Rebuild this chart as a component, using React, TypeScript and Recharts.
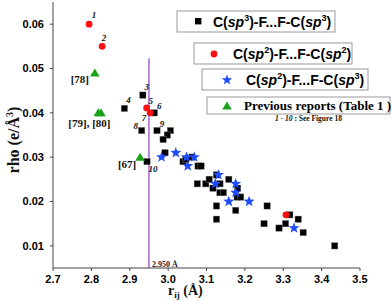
import { ReferenceLine, Scatter, ScatterChart, XAxis, YAxis } from 'recharts'

// C(sp3)-F...F-C(sp3)
const sp3sp3X = [2.934, 2.886, 2.964, 2.931, 2.971, 3.006, 2.998, 2.987, 2.992, 2.945, 3.039, 3.046, 3.062, 3.078, 3.086, 3.076, 3.098, 3.107, 3.117, 3.126, 3.135, 3.135, 3.144, 3.158, 3.181, 3.18, 3.189, 3.126, 3.176, 3.126, 3.258, 3.25, 3.289, 3.306, 3.317, 3.339, 3.352, 3.434]
const sp3sp3Y = [0.044, 0.041, 0.04, 0.036, 0.036, 0.036, 0.035, 0.034, 0.031, 0.029, 0.029, 0.0295, 0.03, 0.028, 0.028, 0.024, 0.024, 0.025, 0.023, 0.026, 0.024, 0.022, 0.022, 0.025, 0.023, 0.021, 0.021, 0.019, 0.018, 0.016, 0.019, 0.015, 0.014, 0.015, 0.017, 0.016, 0.013, 0.01]

// C(sp2)-F...F-C(sp2)
const sp2sp2X = [2.794, 2.828, 2.944, 2.953, 3.307]
const sp2sp2Y = [0.06, 0.055, 0.0411, 0.04, 0.017]

// C(sp2)-F...F-C(sp3)
const sp2sp3X = [2.983, 3.02, 3.048, 3.068, 3.051, 3.131, 3.123, 3.176, 3.176, 3.158, 3.211, 3.328]
const sp2sp3Y = [0.03, 0.031, 0.03, 0.03, 0.028, 0.026, 0.024, 0.024, 0.022, 0.02, 0.02, 0.014]

// previous reports (Table 1)
const prevX = [2.809, 2.818, 2.825, 2.927]
const prevY = [0.049, 0.04, 0.04, 0.03]

// point labels: anchored at a point, offset in px
const noteText = ['1', '2', '3', '4', '5', '6', '7', '8', '9', '10', '[78]', '[79], [80]', '[67]']
const noteX = [2.794, 2.828, 2.934, 2.886, 2.944, 2.964, 2.953, 2.931, 2.971, 2.945, 2.809, 2.821, 2.927]
const noteY = [0.06, 0.055, 0.044, 0.041, 0.0411, 0.04, 0.04, 0.036, 0.036, 0.029, 0.049, 0.04, 0.03]
const noteDx = [5, 2, 4, 4, 4, 5, -6, -6, 5, 6, -15, -10, -13]
const noteDy = [-9, -8, -8, -8, -7, -7, 5, -5, -7, 7, 6, 10, 7]

const xTicks = [2.7, 2.8, 2.9, 3.0, 3.1, 3.2, 3.3, 3.4, 3.5]
const yTicks = [0.01, 0.02, 0.03, 0.04, 0.05, 0.06]
const cutoff = 2.95

const zip = (xs: number[], ys: number[]) => xs.map((x, i) => ({ x, y: ys[i] }))

const SANS = '"Liberation Sans", Arial, sans-serif'
const SERIF = '"Liberation Serif", "Times New Roman", serif'

const Square = (p: any) => (
  <rect x={p.cx - 3.2} y={p.cy - 3.2} width={6.4} height={6.4} fill="#000" stroke="#888" strokeWidth={0.4} />
)
const Dot = (p: any) => <circle cx={p.cx} cy={p.cy} r={3.4} fill="#ff1010" />
const Tri = (p: any) => (
  <polygon points={`${p.cx},${p.cy - 4.5} ${p.cx + 4.8},${p.cy + 3.5} ${p.cx - 4.8},${p.cy + 3.5}`} fill="#1aa31a" />
)
function starPath(cx: number, cy: number, R: number, r: number) {
  const pts: string[] = []
  for (let i = 0; i < 10; i++) {
    const a = -Math.PI / 2 + (i * Math.PI) / 5
    const rad = i % 2 === 0 ? R : r
    pts.push(`${cx + rad * Math.cos(a)},${cy + rad * Math.sin(a)}`)
  }
  return 'M' + pts.join('L') + 'Z'
}
const Star = (p: any) => <path d={starPath(p.cx, p.cy, 5.8, 2.4)} fill="#1f4cff" />
const Note = (p: any) => {
  const d = p.payload
  const num = !d.text.startsWith('[')
  return (
    <text
      x={p.cx + d.dx}
      y={p.cy + d.dy}
      textAnchor="middle"
      dominantBaseline="central"
      fontFamily={SERIF}
      fontWeight="bold"
      fontStyle={num ? 'italic' : 'normal'}
      fontSize={num ? 9 : 11}
      fill="#111"
    >
      {d.text}
    </text>
  )
}

const tickStyle = { fill: '#000', fontFamily: SANS, fontWeight: 'bold', fontSize: 11 }

export default function App() {
  const notes = noteText.map((text, i) => ({ x: noteX[i], y: noteY[i], text, dx: noteDx[i], dy: noteDy[i] }))
  const legendText = { fontFamily: SANS, fontWeight: 'bold', fontSize: 14, fill: '#000' } as const

  return (
    <div style={{ position: 'absolute', left: 0, top: 0, width: 392, height: 301, background: '#fff' }}>
      <ScatterChart width={392} height={301} margin={{ top: 2, right: 32, bottom: 0, left: 0 }}>
        <XAxis
          type="number"
          dataKey="x"
          domain={[2.7, 3.5]}
          ticks={xTicks}
          tickFormatter={(v: number) => v.toFixed(1)}
          height={33}
          tickSize={3}
          tickMargin={4}
          tick={tickStyle}
          stroke="#444"
          allowDataOverflow
        />
        <YAxis
          type="number"
          dataKey="y"
          domain={[0.005, 0.065]}
          ticks={yTicks}
          tickFormatter={(v: number) => v.toFixed(2)}
          width={53}
          tickSize={3}
          tickMargin={6}
          tick={tickStyle}
          stroke="#444"
          allowDataOverflow
        />
        <ReferenceLine
          segment={[{ x: cutoff, y: 0.005 }, { x: cutoff, y: 0.0523 }]}
          stroke="#a366d9"
          strokeWidth={1.5}
        />
        <Scatter data={zip(sp3sp3X, sp3sp3Y)} shape={Square} isAnimationActive={false} />
        <Scatter data={zip(sp2sp3X, sp2sp3Y)} shape={Star} isAnimationActive={false} />
        <Scatter data={zip(sp2sp2X, sp2sp2Y)} shape={Dot} isAnimationActive={false} />
        <Scatter data={zip(prevX, prevY)} shape={Tri} isAnimationActive={false} />
        <Scatter data={notes} shape={Note} isAnimationActive={false} />
      </ScatterChart>
      <svg width={392} height={301} style={{ position: 'absolute', left: 0, top: 0, pointerEvents: 'none' }}>
        {/* cutoff label */}
        <text x={152} y={267} fontFamily={SERIF} fontWeight="bold" fontSize={8} fill="#223">2.950 Å</text>
        {/* axis titles */}
        <text x={168} y={295} fontFamily={SERIF} fontWeight="bold" fontSize={14} fill="#111">
          r<tspan fontSize={9} dy={3}>ij</tspan>
          <tspan dy={-3}> (Å)</tspan>
        </text>
        <text transform="translate(19,140) rotate(-90)" textAnchor="middle" fontFamily={SERIF} fontWeight="bold" fontSize={16} fill="#111">
          rho (e/Å<tspan fontSize={10} dy={-6}>3</tspan>
          <tspan dy={6}>)</tspan>
        </text>
        {/* legend boxes */}
        <rect x={177} y={11} width={158} height={21} fill="#fff" stroke="#999" />
        <rect x={195} y={18} width={6.4} height={6.4} fill="#000" />
        <text x={213} y={27} {...legendText}>
          C(<tspan fontStyle="italic">sp</tspan><tspan fontSize={9} dy={-6}>3</tspan><tspan dy={6}>)-F...F-C(</tspan>
          <tspan fontStyle="italic">sp</tspan><tspan fontSize={9} dy={-6}>3</tspan><tspan dy={6}>)</tspan>
        </text>
        <rect x={194} y={43} width={158} height={21} fill="#fff" stroke="#999" />
        <circle cx={214} cy={54} r={3.4} fill="#ff1010" />
        <text x={233} y={59} {...legendText}>
          C(<tspan fontStyle="italic">sp</tspan><tspan fontSize={9} dy={-6}>2</tspan><tspan dy={6}>)-F...F-C(</tspan>
          <tspan fontStyle="italic">sp</tspan><tspan fontSize={9} dy={-6}>2</tspan><tspan dy={6}>)</tspan>
        </text>
        <rect x={202} y={69} width={166} height={21} fill="#fff" stroke="#999" />
        <path d={starPath(227, 80, 5.5, 2.3)} fill="#1f4cff" />
        <text x={246} y={85} {...legendText}>
          C(<tspan fontStyle="italic">sp</tspan><tspan fontSize={9} dy={-6}>2</tspan><tspan dy={6}>)-F...F-C(</tspan>
          <tspan fontStyle="italic">sp</tspan><tspan fontSize={9} dy={-6}>3</tspan><tspan dy={6}>)</tspan>
        </text>
        <rect x={207} y={97} width={183} height={17} fill="#fff" stroke="#999" />
        <polygon points="227,101.5 231.8,109.5 222.2,109.5" fill="#1aa31a" />
        <text x={244} y={110} fontFamily={SERIF} fontWeight="bold" fontSize={13} fill="#000">
          Previous reports (Table 1 )
        </text>
        <text x={275} y={121} fontFamily={SERIF} fontWeight="bold" fontSize={7.5} fill="#111">
          <tspan fontStyle="italic">1 - 10</tspan> : See Figure 18
        </text>
      </svg>
    </div>
  )
}
